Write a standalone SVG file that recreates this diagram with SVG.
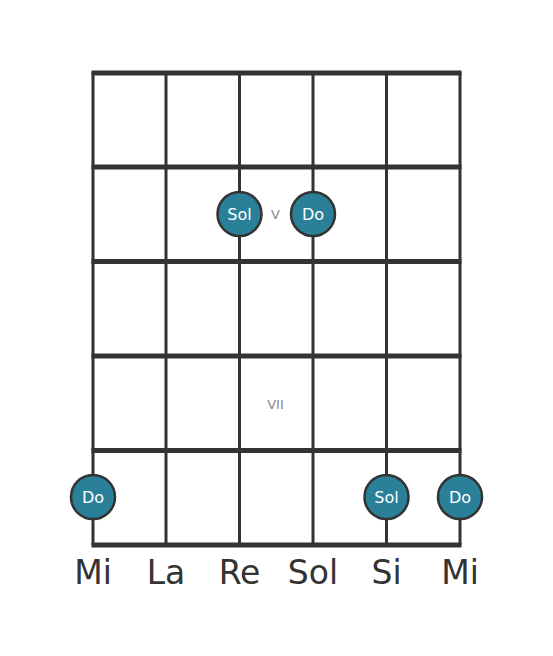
<svg xmlns="http://www.w3.org/2000/svg" width="553" height="656" viewBox="0 0 553 656">
<style>
.fret{stroke:#333;stroke-width:5;stroke-linecap:butt}
.str{stroke:#333;stroke-width:3}
.dot circle{fill:#2a8099;stroke:#333;stroke-width:2.5}
.dot text{fill:#fff;font-family:"DejaVu Sans",sans-serif;font-size:16px;text-anchor:middle}
.pos{fill:#888;font-family:"DejaVu Sans",sans-serif;font-size:13px;text-anchor:middle}
.name{fill:#333;font-family:"DejaVu Sans",sans-serif;font-size:33px;text-anchor:middle}
</style>
<rect width="553" height="656" fill="#fff"/>
<g id="board">
<line class="str" x1="93" y1="72" x2="93" y2="545"/>
<line class="str" x1="166" y1="72" x2="166" y2="545"/>
<line class="str" x1="239.5" y1="72" x2="239.5" y2="545"/>
<line class="str" x1="313" y1="72" x2="313" y2="545"/>
<line class="str" x1="386.5" y1="72" x2="386.5" y2="545"/>
<line class="str" x1="460" y1="72" x2="460" y2="545"/>
<line class="fret" x1="91.5" y1="73" x2="461.5" y2="73"/>
<line class="fret" x1="91.5" y1="167" x2="461.5" y2="167"/>
<line class="fret" x1="91.5" y1="261.5" x2="461.5" y2="261.5"/>
<line class="fret" x1="91.5" y1="356" x2="461.5" y2="356"/>
<line class="fret" x1="91.5" y1="450.5" x2="461.5" y2="450.5"/>
<line class="fret" x1="91.5" y1="545" x2="461.5" y2="545"/>
</g>
<text class="pos" x="275.5" y="219">V</text>
<text class="pos" x="275.5" y="409">VII</text>
<g id="n1" class="dot"><circle cx="239.5" cy="214" r="22"/><text x="239.5" y="220">Sol</text></g>
<g id="n2" class="dot"><circle cx="313" cy="214" r="22"/><text x="313" y="220">Do</text></g>
<g id="n3" class="dot"><circle cx="93" cy="497" r="22"/><text x="93" y="503">Do</text></g>
<g id="n4" class="dot"><circle cx="386.5" cy="497" r="22"/><text x="386.5" y="503">Sol</text></g>
<g id="n5" class="dot"><circle cx="460" cy="497" r="22"/><text x="460" y="503">Do</text></g>
<g id="labels">
<text class="name" x="93" y="584">Mi</text>
<text class="name" x="166" y="584">La</text>
<text class="name" x="239.5" y="584">Re</text>
<text class="name" x="313" y="584">Sol</text>
<text class="name" x="386.5" y="584">Si</text>
<text class="name" x="460" y="584">Mi</text>
</g>
</svg>
